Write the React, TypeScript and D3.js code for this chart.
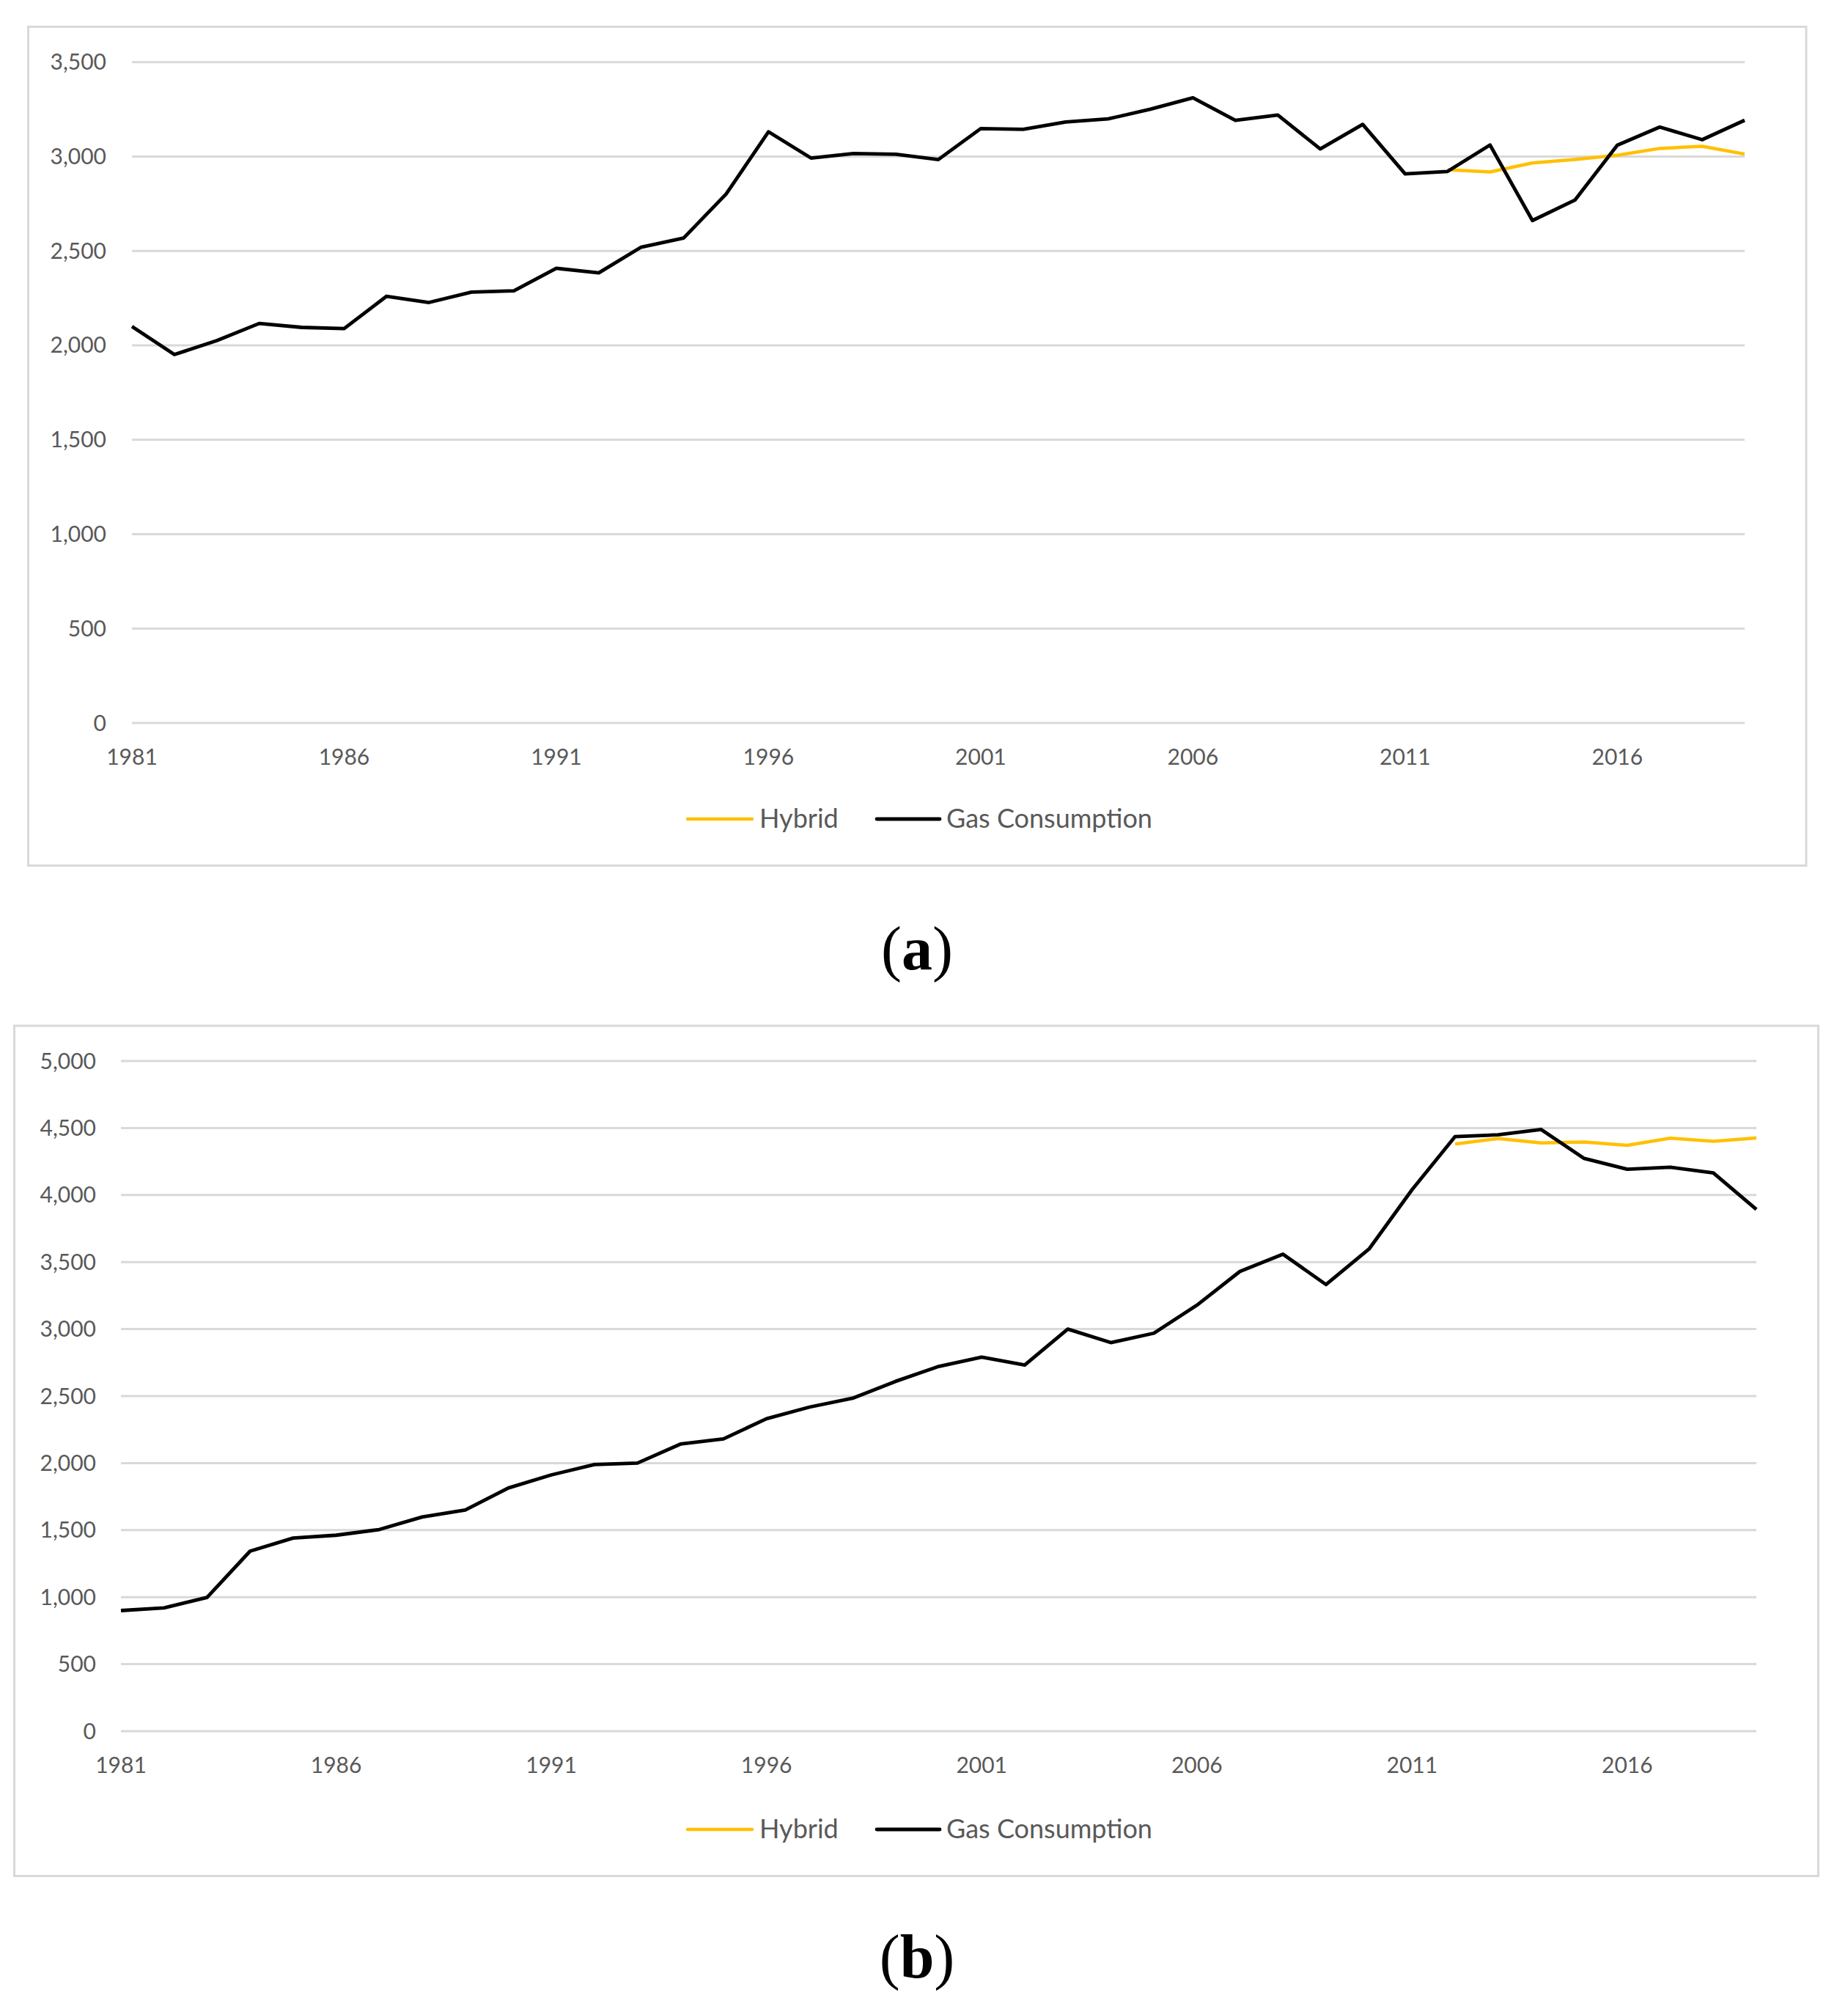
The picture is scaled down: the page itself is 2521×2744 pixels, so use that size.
import * as d3 from 'd3';

// years on the x axis (both panels)
const years = [
  1981, 1982, 1983, 1984, 1985, 1986, 1987, 1988, 1989, 1990,
  1991, 1992, 1993, 1994, 1995, 1996, 1997, 1998, 1999, 2000,
  2001, 2002, 2003, 2004, 2005, 2006, 2007, 2008, 2009, 2010,
  2011, 2012, 2013, 2014, 2015, 2016, 2017, 2018, 2019,
];
const xTickYears = [1981, 1986, 1991, 1996, 2001, 2006, 2011, 2016];
const hybridYears = [2012, 2013, 2014, 2015, 2016, 2017, 2018, 2019];

// panel (a)
const gasA = [
  2100, 1951, 2025, 2116, 2095, 2089, 2260, 2227, 2282, 2289,
  2408, 2384, 2520, 2568, 2801, 3131, 2992, 3016, 3012, 2984,
  3148, 3144, 3183, 3199, 3251, 3311, 3192, 3220, 3040, 3170,
  2908, 2921, 3061, 2661, 2769, 3060, 3156, 3089, 3192,
];
const hybridA = [2930, 2918, 2966, 2984, 3007, 3043, 3054, 3013];
const yTicksA = [0, 500, 1000, 1500, 2000, 2500, 3000, 3500];

// panel (b)
const gasB = [
  900, 920, 998, 1343, 1441, 1462, 1504, 1598, 1650, 1814,
  1912, 1989, 2000, 2142, 2181, 2331, 2418, 2484, 2610, 2721,
  2791, 2732, 3000, 2899, 2969, 3178, 3430, 3559, 3332, 3597,
  4040, 4436, 4449, 4489, 4273, 4192, 4207, 4165, 3893,
];
const hybridB = [4381, 4421, 4389, 4396, 4371, 4424, 4401, 4426];
const yTicksB = [0, 500, 1000, 1500, 2000, 2500, 3000, 3500, 4000, 4500, 5000];

const GRID = '#d9d9d9';
const LABEL = '#595959';
const HYBRID = '#ffc000';
const GAS = '#000000';
const FONT = 'Lato, "Open Sans", sans-serif';
const fmt = d3.format(',');

interface PanelProps {
  box: [number, number, number, number]; // x0, y0, x1, y1
  plotX: [number, number];
  plotY: [number, number]; // bottom, top (pixel)
  yMax: number;
  yTicks: number[];
  yLabelRight: number;
  xLabelY: number;
  legendY: number;
  gas: number[];
  hybrid: number[];
  tag: string;
  tagY: number;
}

function Panel(p: PanelProps) {
  const x = d3.scaleLinear().domain([years[0], years[years.length - 1]]).range(p.plotX);
  const y = d3.scaleLinear().domain([0, p.yMax]).range(p.plotY);
  const line = d3
    .line<[number, number]>()
    .x((d) => x(d[0]))
    .y((d) => y(d[1]));
  const gasPts = years.map((yr, i) => [yr, p.gas[i]] as [number, number]);
  const hybPts = hybridYears.map((yr, i) => [yr, p.hybrid[i]] as [number, number]);
  const [bx0, by0, bx1, by1] = p.box;

  return (
    <g>
      <rect x={bx0} y={by0} width={bx1 - bx0} height={by1 - by0} fill="#fff" stroke={GRID} strokeWidth={3} />
      {p.yTicks.map((t) => (
        <g key={t}>
          <line x1={p.plotX[0]} x2={p.plotX[1]} y1={y(t)} y2={y(t)} stroke={GRID} strokeWidth={3} />
          <text
            x={p.yLabelRight}
            y={y(t) + 10.5}
            textAnchor="end"
            fontFamily={FONT}
            fontSize={30}
            fill={LABEL}
          >
            {fmt(t)}
          </text>
        </g>
      ))}
      {xTickYears.map((yr) => (
        <text
          key={yr}
          x={x(yr)}
          y={p.xLabelY + 10.5}
          textAnchor="middle"
          fontFamily={FONT}
          fontSize={30}
          fill={LABEL}
        >
          {yr}
        </text>
      ))}
      <path d={line(hybPts) || ''} fill="none" stroke={HYBRID} strokeWidth={4.5} strokeLinejoin="round" />
      <path d={line(gasPts) || ''} fill="none" stroke={GAS} strokeWidth={4.8} strokeLinejoin="round" />

      {/* legend */}
      <line x1={938} x2={1026} y1={p.legendY} y2={p.legendY} stroke={HYBRID} strokeWidth={4.5} strokeLinecap="round" />
      <text x={1036} y={p.legendY + 12} fontFamily={FONT} fontSize={36} fill={LABEL}>
        Hybrid
      </text>
      <line x1={1196} x2={1282} y1={p.legendY} y2={p.legendY} stroke={GAS} strokeWidth={4.8} strokeLinecap="round" />
      <text x={1291} y={p.legendY + 12} fontFamily={FONT} fontSize={36} fill={LABEL}>
        Gas Consumption
      </text>

      <text x={1251} y={p.tagY} textAnchor="middle" fontFamily='"Liberation Serif", "DejaVu Serif", serif' fontSize={84} fill="#000">
        (<tspan fontWeight="bold">{p.tag}</tspan>)
      </text>
    </g>
  );
}

export default function App() {
  return (
    <svg
      width={2521}
      height={2744}
      viewBox="0 0 2521 2744"
      style={{ position: 'absolute', left: 0, top: 0, background: '#fff' }}
    >
      <rect width={2521} height={2744} fill="#fff" />
      <Panel
        box={[38.5, 36.5, 2464, 1180.5]}
        plotX={[180, 2380]}
        plotY={[986, 84.7]}
        yMax={3500}
        yTicks={yTicksA}
        yLabelRight={145}
        xLabelY={1032}
        legendY={1117}
        gas={gasA}
        hybrid={hybridA}
        tag="a"
        tagY={1322}
      />
      <Panel
        box={[19.5, 1399, 2480.5, 2558.5]}
        plotX={[165, 2396]}
        plotY={[2361, 1447]}
        yMax={5000}
        yTicks={yTicksB}
        yLabelRight={131}
        xLabelY={2407}
        legendY={2495}
        gas={gasB}
        hybrid={hybridB}
        tag="b"
        tagY={2697}
      />
    </svg>
  );
}
